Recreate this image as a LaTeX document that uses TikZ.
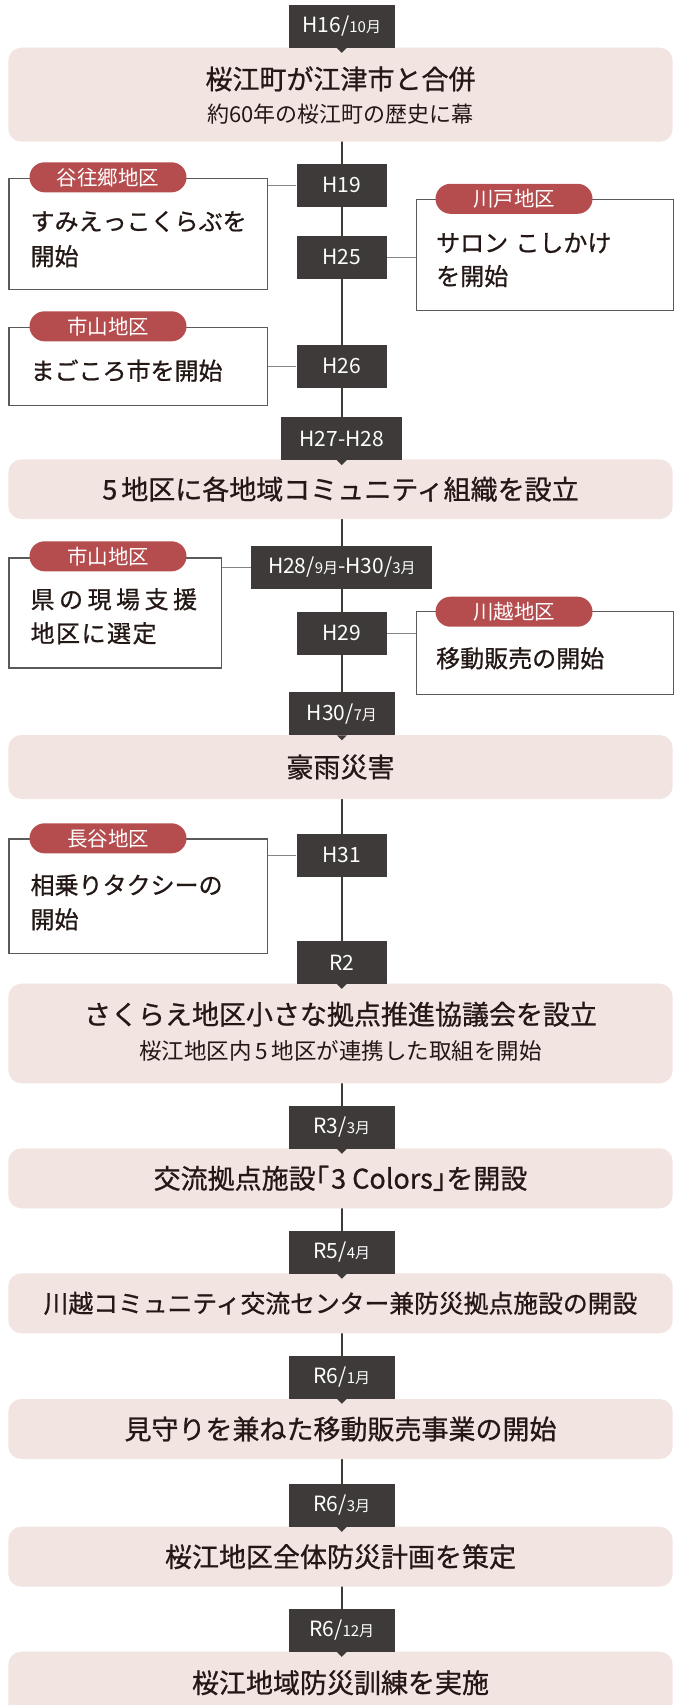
\documentclass[tikz,border=0pt]{standalone}
\usepackage{fontspec}
\setmainfont{Noto Sans CJK JP}
\newfontfamily\jpmed{Noto Sans CJK JP}[FakeBold=0.8]
\usetikzlibrary{backgrounds}
\definecolor{dark}{HTML}{3E3A39}
\definecolor{pinkbg}{HTML}{F2E4E0}
\definecolor{redpill}{HTML}{B54D4F}
\definecolor{txt}{HTML}{231815}
\definecolor{conn}{HTML}{858585}
\definecolor{sideborder}{HTML}{5A5A5A}
\newcommand\smallm[1]{{\fontsize{15}{15}\selectfont #1}}
\newcommand\tk{\kern4.5pt}
\newcommand\tks{\kern1.5pt}
\begin{document}
\begin{tikzpicture}[x=1pt,y=-1pt,
  datebox/.style={fill=dark,text=white,minimum height=42.7pt,inner sep=0pt,font=\fontsize{21}{21}\selectfont},
  eventbox/.style={fill=pinkbg,rounded corners=13pt,minimum width=664.4pt,inner sep=0pt,text=txt,font=\jpmed\fontsize{27}{27}\selectfont},
  titletext/.style={inner sep=0pt,text=txt,font=\jpmed\fontsize{27}{27}\selectfont},
  subtext/.style={inner sep=0pt,text=txt,font=\fontsize{22}{22}\selectfont},
  sidebox/.style={draw=sideborder,line width=1.2pt,fill=white,inner sep=0pt,anchor=north west},
  pill/.style={fill=redpill,text=white,rounded corners=15pt,minimum width=157pt,minimum height=30pt,inner sep=0pt,font=\fontsize{20.5}{20.5}\selectfont},
  bodytext/.style={inner sep=0pt,anchor=west,align=left,text=txt},
  connector/.style={draw=conn,line width=1.4pt},
  mainline/.style={draw=dark,line width=2.2pt},
  pointer/.style={fill=dark}]
\useasboundingbox (0,0) rectangle (680,1705);
\clip (0,0) rectangle (680,1705);

% event boxes
\node[eventbox,minimum height=94pt] (e1) at (340.5,94.7) {};
\node[titletext] (e1t) at (340.5,79) {桜江町が江津市と合併};
\node[subtext] (e1s) at (340.5,114) {約60年の桜江町の歴史に幕};
\node[eventbox,minimum height=59.7pt] (e2) at (340.5,489.2) {5\kern4pt 地区に各地域コミュニティ組織を設立};
\node[eventbox,minimum height=64pt] (e3) at (340.5,767) {豪雨災害};
\node[eventbox,minimum height=99.6pt] (e4) at (340.5,1033.5) {};
\node[titletext] (e4t) at (340.5,1014.3) {さくらえ地区小さな拠点推進協議会を設立};
\node[subtext,font=\fontsize{22.5}{22.5}\selectfont] (e4s) at (340.5,1051) {桜江地区内\kern4pt 5\kern4pt 地区が連携した取組を開始};
\node[eventbox,minimum height=60pt] (e5) at (340.5,1178.3) {交流拠点施設｢\kern2pt 3 Colors｣を開設};
\node[eventbox,minimum height=60pt,font=\jpmed\fontsize{24.8}{24.8}\selectfont] (e6) at (340.5,1303.3) {川越コミュニティ交流センター兼防災拠点施設の開設};
\node[eventbox,minimum height=60pt] (e7) at (340.5,1429) {見守りを兼ねた移動販売事業の開始};
\node[eventbox,minimum height=60pt] (e8) at (340.5,1556.7) {桜江地区全体防災計画を策定};
\node[eventbox,minimum height=80pt] (e9) at (340.5,1691.7) {};
\node[titletext] (e9t) at (340.5,1682.7) {桜江地域防災訓練を実施};

% date boxes
\node[datebox,minimum width=105.7pt] (d1) at (341.8,26.35) {H16/\smallm{10月}};
\node[datebox,minimum width=90.4pt] (d2) at (341.8,185.35) {H19};
\node[datebox,minimum width=90.4pt] (d3) at (341.8,257.35) {H25};
\node[datebox,minimum width=90.4pt] (d4) at (341.8,366.2) {H26};
\node[datebox,minimum width=120.9pt] (d5) at (341.8,438.6) {H27-H28};
\node[datebox,minimum width=181.3pt] (d6) at (341.8,567.3) {H28/\smallm{9月}-H30/\smallm{3月}};
\node[datebox,minimum width=90.4pt] (d7) at (341.8,633.3) {H29};
\node[datebox,minimum width=105.7pt] (d8) at (341.8,713.7) {H30/\smallm{7月}};
\node[datebox,minimum width=90.4pt] (d9) at (341.8,855.3) {H31};
\node[datebox,minimum width=90.4pt] (d10) at (341.8,962.3) {R2};
\node[datebox,minimum width=105.7pt] (d11) at (341.8,1127.2) {R3/\smallm{3月}};
\node[datebox,minimum width=105.7pt] (d12) at (341.8,1252.2) {R5/\smallm{4月}};
\node[datebox,minimum width=105.7pt] (d13) at (341.8,1377.2) {R6/\smallm{1月}};
\node[datebox,minimum width=105.7pt] (d14) at (341.8,1505.3) {R6/\smallm{3月}};
\node[datebox,minimum width=105.7pt] (d15) at (341.8,1630.3) {R6/\smallm{12月}};

\foreach \n in {d1,d5,d8,d10,d11,d12,d13,d14,d15}
  \fill[pointer] ([xshift=-5pt]\n.south) -- ([xshift=5pt]\n.south) -- ([yshift=-5pt]\n.south) -- cycle;

% side boxes
\node[sidebox,minimum width=258.7pt,minimum height=111pt] (s1) at (8.3,177.7) {};
\node[pill] (p1) at (108,177.3) {谷往郷地区};
\node[bodytext,font=\jpmed\fontsize{24}{35}\selectfont] (t1) at (30.4,239.2) {すみえっこくらぶを\\開始};

\node[sidebox,minimum width=257.1pt,minimum height=111pt] (s2) at (415.6,199) {};
\node[pill] (p2) at (514,198.8) {川戸地区};
\node[bodytext,font=\jpmed\fontsize{24}{33.4}\selectfont] (t2) at (436,260) {サロン\hspace{0.3em}こしかけ\\を開始};

\node[sidebox,minimum width=258.7pt,minimum height=78.3pt] (s3) at (8.3,326.7) {};
\node[pill] (p3) at (108,326.3) {市山地区};
\node[bodytext,font=\jpmed\fontsize{24}{24}\selectfont] (t3) at (30.4,370.7) {まごころ市を開始};

\node[sidebox,minimum width=212.9pt,minimum height=110pt] (s4) at (8.3,557.3) {};
\node[pill] (p4) at (108,556.3) {市山地区};
\node[bodytext,font=\jpmed\fontsize{24}{34}\selectfont] (t4) at (30.4,616.3) {県\tk の\tk 現\tk 場\tk 支\tk 援\\地\tks 区\tks に\tks 選\tks 定};

\node[sidebox,minimum width=257.1pt,minimum height=83pt] (s5) at (415.6,611) {};
\node[pill] (p5) at (514,611.7) {川越地区};
\node[bodytext,font=\jpmed\fontsize{24}{24}\selectfont] (t5) at (436,658.3) {移動販売の開始};

\node[sidebox,minimum width=258.7pt,minimum height=114.4pt] (s6) at (8.3,838.3) {};
\node[pill] (p6) at (108,838.3) {長谷地区};
\node[bodytext,font=\jpmed\fontsize{24}{34.3}\selectfont] (t6) at (30.4,902.2) {相乗りタクシーの\\開始};

% connectors
\draw[connector] (d2.west) -- (d2.west -| s1.east);
\draw[connector] (d3.east) -- (d3.east -| s2.west);
\draw[connector] (d4.west) -- (d4.west -| s3.east);
\draw[connector] (d6.west) -- (d6.west -| s4.east);
\draw[connector] (d7.east) -- (d7.east -| s5.west);
\draw[connector] (d9.west) -- (d9.west -| s6.east);

\begin{scope}[on background layer]
  \draw[mainline] (d1.center) -- (d15.center);
\end{scope}
\end{tikzpicture}
\end{document}
